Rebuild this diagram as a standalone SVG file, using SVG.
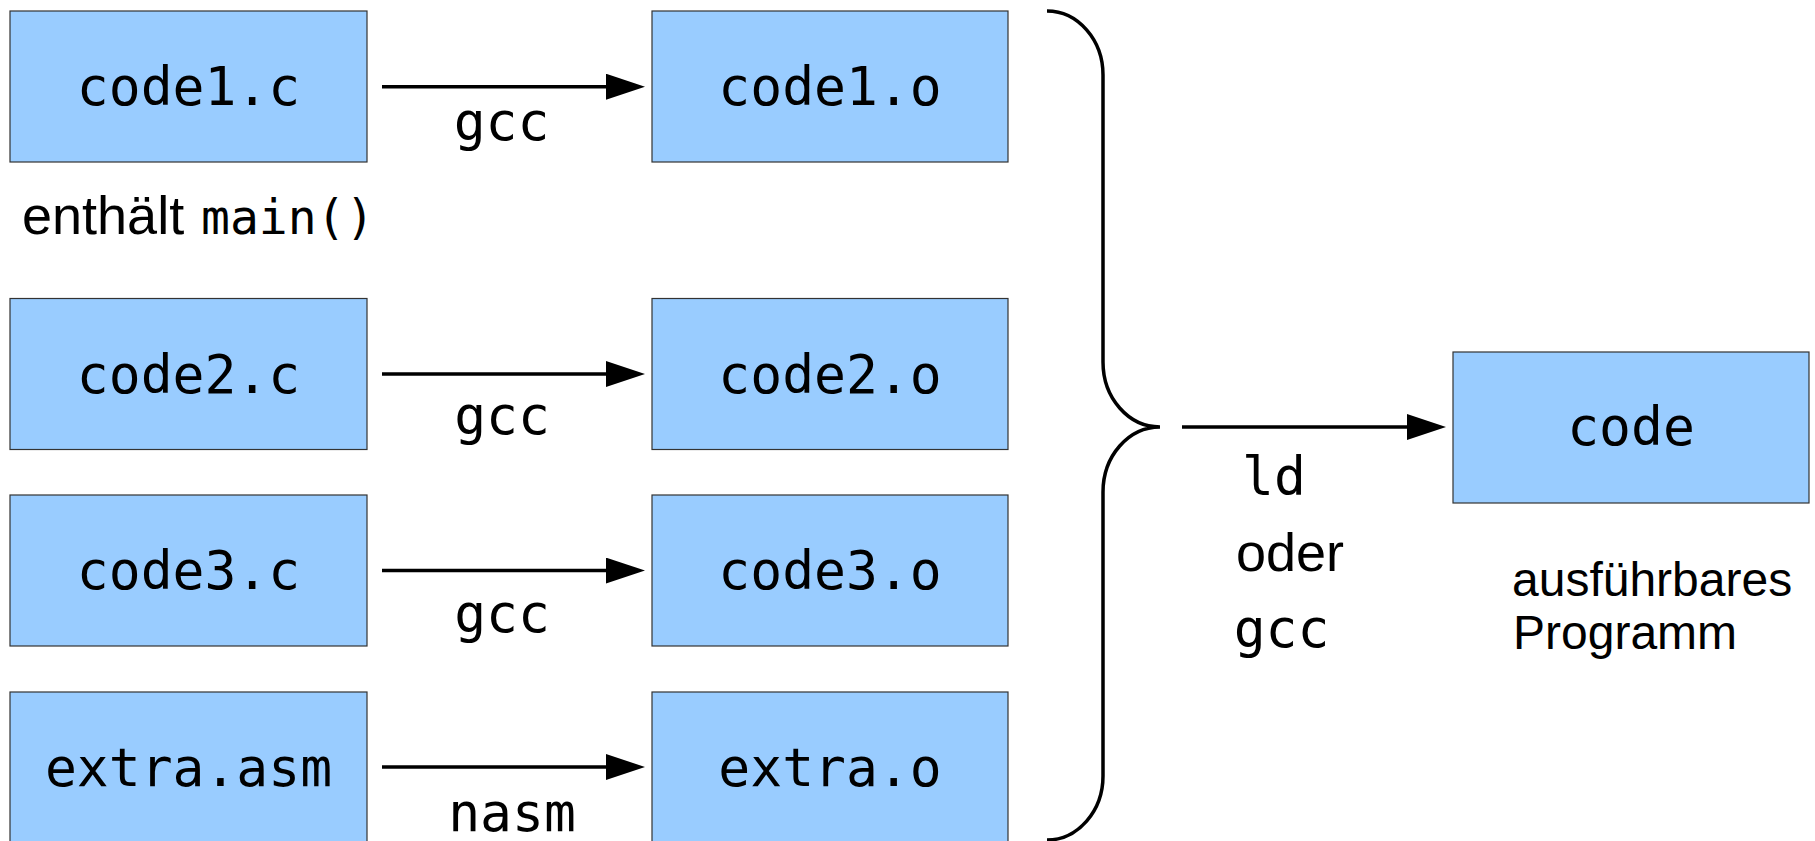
<svg xmlns="http://www.w3.org/2000/svg" width="1815" height="841" viewBox="0 0 1815 841">
<style>
.box{fill:#99ccff;stroke:#333333;stroke-width:1.2}
.mono{font-family:"DejaVu Sans Mono","Liberation Mono",monospace;font-size:53px;fill:#000}
.sans{font-family:"Liberation Sans",Arial,sans-serif;font-size:52px;fill:#000}
.lbl{text-anchor:middle}
.edge{stroke:#000;stroke-width:3.5;fill:none}
</style>
<defs>
<marker id="arr" markerUnits="userSpaceOnUse" markerWidth="39" markerHeight="26" refX="14" refY="13" orient="auto">
<path d="M0,0 L39,13 L0,26 Z" fill="#000"/>
</marker>
</defs>
<rect width="1815" height="841" fill="#fff"/>
<g id="n-code1c"><rect class="box" x="10" y="11" width="357" height="151"/><text class="mono lbl" x="188.5" y="105">code1.c</text></g>
<g id="n-code1o"><rect class="box" x="652" y="11" width="356" height="151"/><text class="mono lbl" x="830" y="105">code1.o</text></g>
<g id="n-code2c"><rect class="box" x="10" y="298.5" width="357" height="151"/><text class="mono lbl" x="188.5" y="392.5">code2.c</text></g>
<g id="n-code2o"><rect class="box" x="652" y="298.5" width="356" height="151"/><text class="mono lbl" x="830" y="392.5">code2.o</text></g>
<g id="n-code3c"><rect class="box" x="10" y="495" width="357" height="151"/><text class="mono lbl" x="188.5" y="589">code3.c</text></g>
<g id="n-code3o"><rect class="box" x="652" y="495" width="356" height="151"/><text class="mono lbl" x="830" y="589">code3.o</text></g>
<g id="n-extraasm"><rect class="box" x="10" y="692" width="357" height="151"/><text class="mono lbl" x="188.5" y="786">extra.asm</text></g>
<g id="n-extrao"><rect class="box" x="652" y="692" width="356" height="151"/><text class="mono lbl" x="830" y="786">extra.o</text></g>
<g id="n-code"><rect class="box" x="1453" y="352" width="356" height="151"/><text class="mono lbl" x="1631" y="445">code</text></g>
<g id="note-main"><text x="22" y="234"><tspan class="sans" style="font-size:54px">enthält</tspan><tspan class="mono" style="font-size:48px" x="201">main()</tspan></text></g>
<g id="note-exe"><text class="sans" style="font-size:48px" x="1512" y="596">ausführbares</text><text class="sans" style="font-size:48px" x="1513" y="649">Programm</text></g>
<g id="connectors">
<path class="edge" d="M382 86.7 H620" marker-end="url(#arr)"/>
<path class="edge" d="M382 374 H620" marker-end="url(#arr)"/>
<path class="edge" d="M382 570.6 H620" marker-end="url(#arr)"/>
<path class="edge" d="M382 767 H620" marker-end="url(#arr)"/>
<path class="edge" d="M1182 427 H1421" marker-end="url(#arr)"/>
<path class="edge" d="M1047 11 C1078 11 1103 40 1103 75 L1103 362 C1103 398 1128.5 427 1160 427 C1128.5 427 1103 456 1103 492 L1103 776 C1103 811 1078 840 1047 840"/>
<text class="mono lbl" x="501.5" y="140">gcc</text>
<text class="mono lbl" x="502" y="434">gcc</text>
<text class="mono lbl" x="502" y="632">gcc</text>
<text class="mono lbl" x="512" y="831">nasm</text>
<text class="mono lbl" x="1274" y="495">ld</text>
<text class="sans" style="font-size:54px" x="1236" y="571">oder</text>
<text class="mono lbl" x="1281.5" y="647">gcc</text>
</g>
</svg>
